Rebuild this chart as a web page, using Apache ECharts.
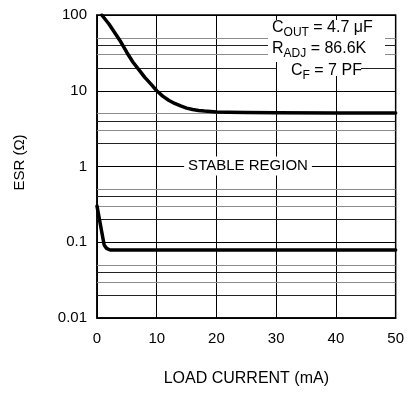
<!DOCTYPE html>
<html>
<head>
<meta charset="utf-8">
<script src="https://cdn.jsdelivr.net/npm/echarts@6/dist/echarts.min.js"></script>
<style>
html,body{margin:0;padding:0;background:#fff;}
#c{width:407px;height:393px;}
</style>
</head>
<body>
<div id="c"></div>
<script>
// ---- data ----
const xTicks = [0, 10, 20, 30, 40, 50];
const yTickLabels = ['0.01', '0.1', '1', '10', '100'];
const upperX = [0.8, 2, 3, 4, 5, 6, 7, 8, 9, 10, 11, 12, 13, 14, 15, 16, 17, 18, 20, 22, 25, 30, 40, 50];
const upperY = [100, 76, 58, 44, 32, 24, 19, 15, 12.3, 10, 8.5, 7.5, 6.8, 6.3, 5.9, 5.65, 5.5, 5.4, 5.25, 5.2, 5.15, 5.12, 5.1, 5.1];
const lowerX = [0, 1.2, 1.6, 2.2, 50];
const lowerY = [0.3, 0.092, 0.083, 0.079, 0.079];
const minorGray = [50, 30, 5, 3, 0.5, 0.3, 0.05, 0.03];
const minorDark = [40, 20, 4, 2, 0.4, 0.2, 0.04, 0.02];
const annotation = ['C', 'OUT', ' = 4.7 μF', 'R', 'ADJ', ' = 86.6K', 'C', 'F', ' = 7 PF'];
const regionLabel = 'STABLE REGION';
const xTitle = 'LOAD CURRENT (mA)';
const yTitle = 'ESR (Ω)';

const FONT = "'Liberation Sans', 'DejaVu Sans', sans-serif";
const zip = (xs, ys) => xs.map((x, i) => [x, ys[i]]);

const chart = echarts.init(document.getElementById('c'), null, {renderer: 'canvas'});

const richStyle = {
  m: {fontSize: 16, fontFamily: FONT, color: '#000'},
  s: {fontSize: 12, fontFamily: FONT, color: '#000', padding: [10, 0, 0, 0]}
};

chart.setOption({
  animation: false,
  backgroundColor: '#fff',
  grid: {left: 97, right: 8, top: 15, bottom: 75, show: true, borderColor: '#000', borderWidth: 1.5},
  xAxis: {
    type: 'value', min: xTicks[0], max: xTicks[xTicks.length - 1], interval: 10,
    name: xTitle, nameLocation: 'middle', nameGap: 53,
    nameTextStyle: {fontSize: 16, fontFamily: FONT, color: '#000'},
    axisLine: {show: true, lineStyle: {color: '#000', width: 1.5}},
    axisTick: {show: false},
    axisLabel: {fontSize: 15, fontFamily: FONT, color: '#000', margin: 13},
    splitLine: {show: true, lineStyle: {color: '#000', width: 1}}
  },
  yAxis: {
    type: 'log', logBase: 10, min: 0.01, max: 100,
    name: yTitle, nameLocation: 'middle', nameGap: 70, nameRotate: 90,
    nameTextStyle: {fontSize: 15, fontFamily: FONT, color: '#000', padding: [0, 0, 0, 8]},
    axisLine: {show: true, lineStyle: {color: '#000', width: 1.5}},
    axisTick: {show: false},
    axisLabel: {
      fontSize: 15, fontFamily: FONT, color: '#000', margin: 10,
      formatter: v => yTickLabels[Math.round(Math.log10(v)) + 2]
    },
    splitLine: {show: true, lineStyle: {color: '#000', width: 1}}
  },
  series: [
    {
      type: 'line', data: [[0, 1]], showSymbol: false, lineStyle: {opacity: 0}, silent: true, z: 1,
      markLine: {
        silent: true, symbol: 'none', label: {show: false},
        lineStyle: {color: '#8c8c8c', width: 1.2, type: 'solid'},
        data: minorGray.map(v => ({yAxis: v}))
      }
    },
    {
      type: 'line', data: [[0, 1]], showSymbol: false, lineStyle: {opacity: 0}, silent: true, z: 1,
      markLine: {
        silent: true, symbol: 'none', label: {show: false},
        lineStyle: {color: '#222', width: 1, type: 'solid'},
        data: minorDark.map(v => ({yAxis: v}))
      }
    },
    {
      type: 'line', data: zip(upperX, upperY), showSymbol: false, z: 5,
      lineStyle: {color: '#000', width: 3.5, cap: 'round', join: 'round'}
    },
    {
      type: 'line', data: zip(lowerX, lowerY), showSymbol: false, z: 5,
      lineStyle: {color: '#000', width: 3.5, cap: 'round', join: 'round'}
    }
  ],
  graphic: [
    {type: 'rect', z: 100, shape: {x: 268, y: 20, width: 117, height: 42}, style: {fill: '#fff'}},
    {type: 'rect', z: 100, shape: {x: 277, y: 62, width: 84, height: 14}, style: {fill: '#fff'}},
    {type: 'text', z: 101, x: 272, y: 28, style: {
      text: '{m|' + annotation[0] + '}{s|' + annotation[1] + '}{m|' + annotation[2] + '}',
      rich: richStyle, verticalAlign: 'middle', align: 'left'}},
    {type: 'text', z: 101, x: 272, y: 49, style: {
      text: '{m|' + annotation[3] + '}{s|' + annotation[4] + '}{m|' + annotation[5] + '}',
      rich: richStyle, verticalAlign: 'middle', align: 'left'}},
    {type: 'text', z: 101, x: 291, y: 71, style: {
      text: '{m|' + annotation[6] + '}{s|' + annotation[7] + '}{m|' + annotation[8] + '}',
      rich: richStyle, verticalAlign: 'middle', align: 'left'}},
    {type: 'text', z: 101, x: 248, y: 166, style: {
      text: regionLabel, fontSize: 15, fontFamily: FONT, fill: '#000',
      backgroundColor: '#fff', padding: [2, 4, 2, 4], align: 'center', verticalAlign: 'middle'}}
  ]
});
</script>
</body>
</html>
